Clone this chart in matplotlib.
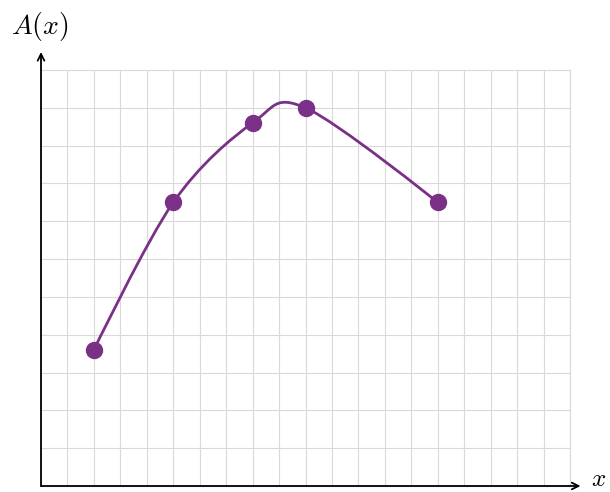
import numpy as np
import matplotlib
matplotlib.use("Agg")
import matplotlib.pyplot as plt
from matplotlib.path import Path
from matplotlib.patches import PathPatch

plt.rcParams['mathtext.fontset'] = 'cm'

# data
x_vals = [2, 5, 8, 10, 15]
y_vals = [3.6, 7.5, 9.6, 10.0, 7.5]
x_max = 20
y_max = 11

purple = '#7a3086'

W, H = 610, 492
fig = plt.figure(figsize=(W/100, H/100), dpi=100)
ax = fig.add_axes([0, 0, 1, 1])
ax.set_axis_off()

ox, oy = 41, 486           # origin pixel
ux = (570 - 41) / x_max    # pixels per x unit
uy = (486 - 70) / y_max    # pixels per y unit
ax.set_xlim(-ox / ux, (W - ox) / ux)
ax.set_ylim(-(H - oy) / uy, oy / uy)

# grid
for gx in range(0, x_max + 1):
    ax.plot([gx, gx], [0, y_max], color='#d9d9d9', lw=0.8, zorder=1)
for gy in range(0, y_max + 1):
    ax.plot([0, x_max], [gy, gy], color='#d9d9d9', lw=0.8, zorder=1)

# axes arrows
ax.annotate('', xy=(x_max + 10.5 / ux, 0), xytext=(0, 0),
            arrowprops=dict(arrowstyle='->', lw=1.3, color='black',
                            shrinkA=0, shrinkB=0, mutation_scale=12), zorder=3)
ax.annotate('', xy=(0, (486 - 52) / uy), xytext=(0, 0),
            arrowprops=dict(arrowstyle='->', lw=1.3, color='black',
                            shrinkA=0, shrinkB=0, mutation_scale=12), zorder=3)

# smooth curve (tikz-like)
P = np.column_stack([x_vals, y_vals]).astype(float)
n = len(P)
t = 1.0 / 6.0
verts = [P[0]]
codes = [Path.MOVETO]
for i in range(n - 1):
    if i == 0:
        c1 = P[0]
    else:
        c1 = P[i] + t * (P[i + 1] - P[i - 1])
    if i + 1 == n - 1:
        c2 = P[n - 1]
    else:
        c2 = P[i + 1] - t * (P[i + 2] - P[i])
    verts += [c1, c2, P[i + 1]]
    codes += [Path.CURVE4] * 3
ax.add_patch(PathPatch(Path(verts, codes), facecolor='none', edgecolor=purple,
                       lw=2.0, zorder=4, capstyle='round'))
ax.plot(x_vals, y_vals, 'o', color=purple, ms=11.5, zorder=5)

# labels
ax.text(-ox / ux + 11 / ux, (486 - 26) / uy, r'$A(x)$', fontsize=20,
        ha='left', va='center')
ax.text(x_max + 21 / ux, -4.5 / uy, r'$x$', fontsize=18, ha='left', va='bottom')

fig.savefig('out.png', dpi=100)
